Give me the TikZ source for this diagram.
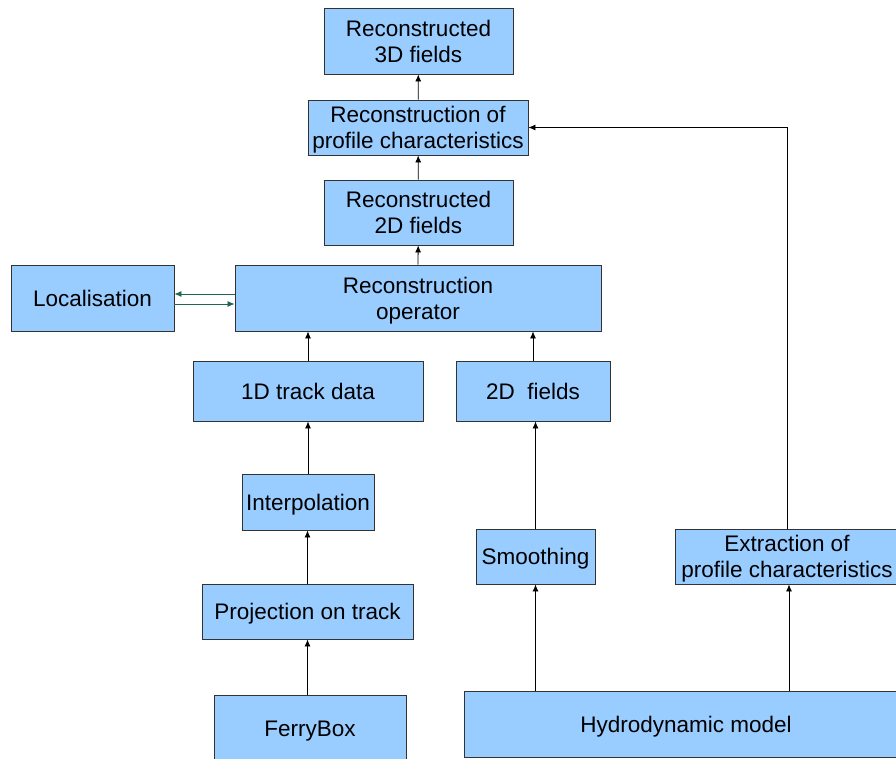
\documentclass[tikz,border=0pt]{standalone}
\usepackage{fontspec}
\setmainfont{Liberation Sans}
\usetikzlibrary{arrows, arrows.meta, positioning}
\definecolor{blauclar}{HTML}{99CCFF}
\definecolor{verdfosc}{HTML}{1F6655}
\tikzset{caixa/.style={draw=black!80, line width=0.9pt, fill=blauclar, align=center, inner sep=0pt,
    text depth=0pt, font=\fontsize{22.5}{26}\selectfont},
  fletxa/.style={-{Latex[length=7pt,width=6pt]}, line width=0.8pt}}

\begin{document}
\begin{tikzpicture}[x=1pt, y=-1pt]
            \useasboundingbox (0,0) rectangle (896,759);
            \node[caixa, minimum width=189, minimum height=66] (reconstructed_3d) at (418.5,41) {Reconstructed\\3D fields};
            \node[caixa, minimum width=220, minimum height=55] (profile_reconstruction) at (418,127.5) {Reconstruction of\\profile characteristics};
            \node[caixa, minimum width=189, minimum height=65] (reconstructed_2d) at (418.5,212.5) {Reconstructed\\2D fields};
            \node[caixa, minimum width=366, minimum height=66] (reconstruction_operator) at (418,298) {Reconstruction\\operator};
            \node[caixa, minimum width=163, minimum height=66] (localisation) at (92.5,298) {Localisation};
            \node[caixa, minimum width=230, minimum height=60] (track_data) at (308,391) {1D track data};
            \node[caixa, minimum width=154, minimum height=60] (fields_2d) at (533,391) {2D\ \ fields};
            \node[caixa, minimum width=132, minimum height=56] (interpolation) at (308,502) {Interpolation};
            \node[caixa, minimum width=119, minimum height=55] (smoothing) at (535.5,556.5) {Smoothing};
            \node[caixa, minimum width=224, minimum height=55] (extraction) at (787,556.5) {Extraction of\\profile characteristics};
            \node[caixa, minimum width=211, minimum height=55] (projection) at (307.5,611.5) {Projection on track};
            \node[caixa, minimum width=192, minimum height=68] (ferrybox) at (310,729) {FerryBox};
            \node[caixa, minimum width=444, minimum height=66] (hydrodynamic_model) at (686,724) {Hydrodynamic model};

            \draw[fletxa] (profile_reconstruction) -- (reconstructed_3d);
            \draw[fletxa] (reconstructed_2d) -- (profile_reconstruction);
            \draw[fletxa] (reconstruction_operator.north) -- (reconstructed_2d);
            \draw[fletxa] (track_data.north) -- (track_data.north |- reconstruction_operator.south);
            \draw[fletxa] (fields_2d.north) -- (fields_2d.north |- reconstruction_operator.south);
            \draw[fletxa] (interpolation) -- (track_data);
            \draw[fletxa] (projection.north) -- (projection.north |- interpolation.south);
            \draw[fletxa] (ferrybox.north -| projection.south) -- (projection.south);
            \draw[fletxa] (smoothing.north) -- (smoothing.north |- fields_2d.south);
            \draw[fletxa] (smoothing.south |- hydrodynamic_model.north) -- (smoothing.south);
            \draw[fletxa] ([xshift=2pt]extraction.south |- hydrodynamic_model.north) -- ([xshift=2pt]extraction.south);
            \draw[fletxa] (extraction.north) |- (profile_reconstruction.east);
            \draw[fletxa, verdfosc] ([yshift=4pt]reconstruction_operator.west) -- ([yshift=4pt]localisation.east);
            \draw[fletxa, verdfosc] ([yshift=-6pt]localisation.east) -- ([yshift=-6pt]reconstruction_operator.west);
      \end{tikzpicture}
\end{document}
